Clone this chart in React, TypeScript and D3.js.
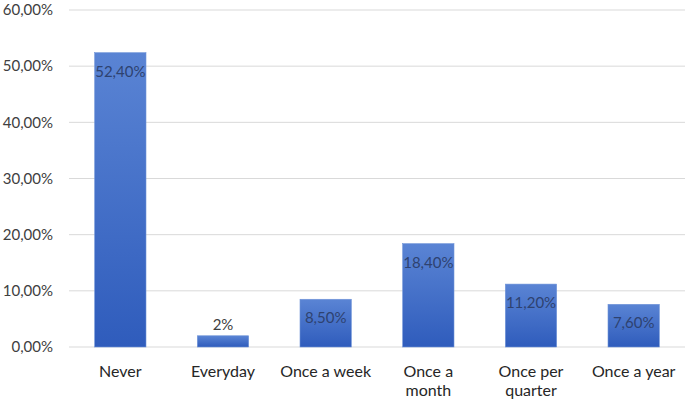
import React from "react";
import * as d3 from "d3";

const categories = ["Never", "Everyday", "Once a week", "Once a month", "Once per quarter", "Once a year"];
const values = [52.4, 2, 8.5, 18.4, 11.2, 7.6];
const valueLabels = ["52,40%", "2%", "8,50%", "18,40%", "11,20%", "7,60%"];
const yTicks = [0, 10, 20, 30, 40, 50, 60];
const xLabelLines = [["Never"], ["Everyday"], ["Once a week"], ["Once a", "month"], ["Once per", "quarter"], ["Once a year"]];

const width = 685;
const height = 401;
const margin = { top: 10, right: 0, bottom: 54, left: 69 };

const fmt = (v: number) => v.toFixed(2).replace(".", ",") + "%";

export default function App() {
  const x = d3
    .scaleBand<string>()
    .domain(categories)
    .range([margin.left, width - margin.right])
    .paddingInner(0.5)
    .paddingOuter(0.25);
  const y = d3.scaleLinear().domain([0, 60]).range([height - margin.bottom, margin.top]);

  const font = "Lato, 'Open Sans', sans-serif";

  return (
    <svg
      width={width}
      height={height}
      style={{ position: "fixed", left: 0, top: 0, background: "#fff" }}
      fontFamily={font}
    >
      <defs>
        <linearGradient id="barGrad" x1="0" x2="0" y1="0" y2="1">
          <stop offset="0%" stopColor="#5a84d4" />
          <stop offset="100%" stopColor="#2f5cbc" />
        </linearGradient>
      </defs>
      {yTicks.map((t) => (
        <g key={t}>
          <line
            x1={margin.left}
            x2={width - margin.right}
            y1={y(t)}
            y2={y(t)}
            stroke="#d9d9d9"
            strokeWidth={1}
          />
          <text x={53} y={y(t)} dy="0.35em" textAnchor="end" fontSize={15} fill="#404040">
            {fmt(t)}
          </text>
        </g>
      ))}
      {categories.map((c, i) => {
        const bx = x(c)!;
        const by = y(values[i]);
        const bh = y(0) - by;
        const inside = bh > 20;
        return (
          <g key={c}>
            <rect x={bx} y={by} width={x.bandwidth()} height={bh} fill="url(#barGrad)" stroke="#6f93d8" strokeWidth={0.6} />
            <text
              x={bx + x.bandwidth() / 2}
              y={inside ? by + 24 : by - 6}
              textAnchor="middle"
              fontSize={15}
              fill={inside ? "#2e4270" : "#404040"}
            >
              {valueLabels[i]}
            </text>
          </g>
        );
      })}
      {categories.map((c, i) => (
        <text key={c} x={x(c)! + x.bandwidth() / 2} y={377} textAnchor="middle" fontSize={16} fill="#262626">
          {xLabelLines[i].map((line, j) => (
            <tspan key={j} x={x(c)! + x.bandwidth() / 2} dy={j === 0 ? 0 : 19}>
              {line}
            </tspan>
          ))}
        </text>
      ))}
    </svg>
  );
}
